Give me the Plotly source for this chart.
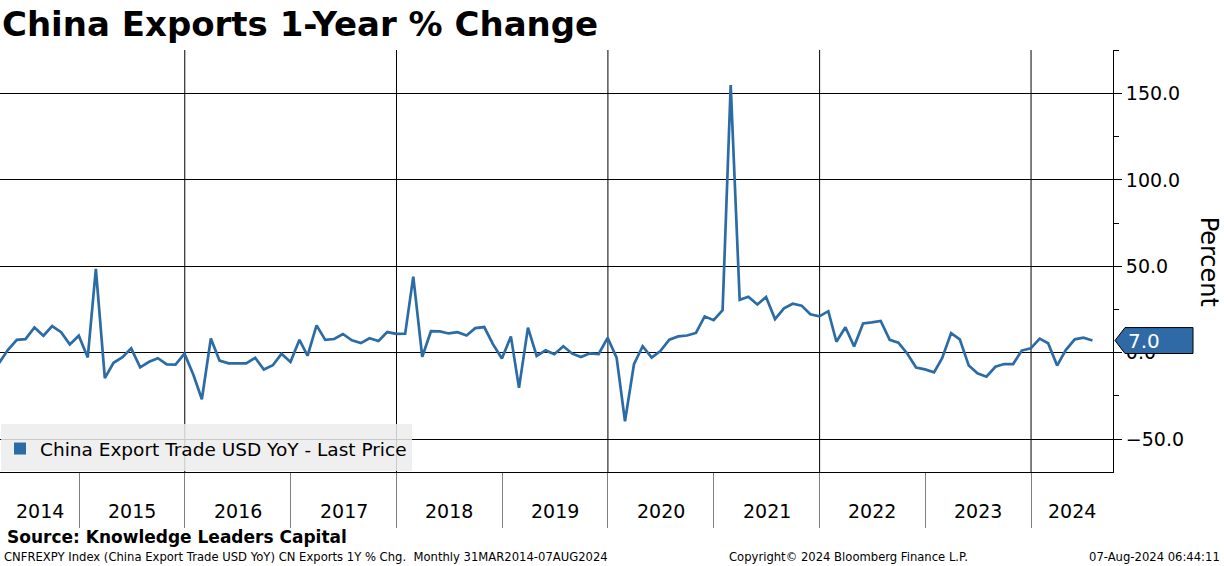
import pandas as pd
import plotly.graph_objects as go

# ---------------- data ----------------
title_text = "China Exports 1-Year % Change"
series_name = "China Export Trade USD YoY - Last Price"
first_month_end = "2014-03-31"

values_2014 = [-6.0, 1.5, 7.4, 7.8, 14.6, 9.8, 15.4, 11.8, 4.8, 9.8]           # Mar-Dec
values_2015 = [-2.8, 48.5, -14.8, -5.9, -2.6, 2.5, -8.5, -5.3, -3.2, -6.8, -6.9, -0.6]
values_2016 = [-13.0, -27.0, 8.2, -4.6, -6.2, -6.2, -6.2, -3.0, -9.8, -7.3, -0.7, -5.4]
values_2017 = [7.4, -1.8, 15.8, 7.4, 7.9, 10.8, 7.1, 5.5, 8.3, 6.7, 11.9, 10.9]
values_2018 = [11.0, 44.0, -2.4, 12.4, 12.3, 11.1, 11.8, 9.9, 14.2, 14.8, 4.9, -3.4]
values_2019 = [9.4, -20.4, 14.5, -1.9, 1.3, -0.9, 3.7, -0.6, -2.5, -0.4, -0.8, 8.6]
values_2020 = [-2.9, -39.7, -6.7, 3.7, -2.9, 0.9, 7.5, 9.4, 9.9, 11.4, 21.0, 18.8]
values_2021 = [24.6, 154.9, 30.6, 32.3, 27.9, 32.2, 19.4, 25.6, 28.3, 27.2, 22.2, 21.0]
values_2022 = [24.0, 6.3, 14.7, 3.6, 16.9, 17.5, 18.3, 7.4, 5.8, -0.6, -8.6, -9.7]
values_2023 = [-11.4, -3.2, 11.3, 7.7, -7.5, -12.0, -13.9, -8.2, -6.6, -6.6, 1.2, 2.5]
values_2024 = [8.1, 5.4, -7.5, 1.5, 7.7, 8.7, 7.0]                                # Jan-Jul

x_range = ["2014-04-03", "2024-10-10"]
year_labels = list(range(2014, 2025))
grid_years = [2016, 2018, 2020, 2022, 2024]
y_ticks = [-50, 0, 50, 100, 150]
y_minor_step = 25
y_range = [-69.1, 175.2]

source_text = "Source: Knowledge Leaders Capital"
footer_left = "CNFREXPY Index (China Export Trade USD YoY) CN Exports 1Y % Chg.  Monthly 31MAR2014-07AUG2024"
footer_mid = "Copyright© 2024 Bloomberg Finance L.P."
footer_right = "07-Aug-2024 06:44:11"
y_title = "Percent"

# ---------------- build ----------------
values = (values_2014 + values_2015 + values_2016 + values_2017 + values_2018 + values_2019
          + values_2020 + values_2021 + values_2022 + values_2023 + values_2024)
try:
    dates = pd.date_range(start=first_month_end, periods=len(values), freq="ME")
except Exception:
    dates = pd.date_range(start=first_month_end, periods=len(values), freq="M")

LINE = "#2b6ca6"
FONT = "DejaVu Sans"

fig = go.Figure()
fig.add_trace(go.Scatter(x=dates, y=values, mode="lines", line=dict(color=LINE, width=2.7),
                         name=series_name, showlegend=False))
fig.add_trace(go.Scatter(x=[None], y=[None], mode="markers",
                         marker=dict(symbol="square", size=12, color=LINE),
                         name=series_name, showlegend=True))

r0, r1 = pd.Timestamp(x_range[0]), pd.Timestamp(x_range[1])

# vertical grid lines every two years
for yr in grid_years:
    fig.add_shape(type="line", xref="x", yref="paper", x0=f"{yr}-01-01", x1=f"{yr}-01-01",
                  y0=0, y1=1, line=dict(color="black", width=1), layer="below")

# year labels centred in visible part of each year
for yr in year_labels:
    s = max(pd.Timestamp(f"{yr}-01-01"), r0)
    e = min(pd.Timestamp(f"{yr + 1}-01-01"), r1)
    mid = s + (e - s) / 2
    fig.add_annotation(x=mid, xref="x", y=-0.0924, yref="paper", text=str(yr), showarrow=False,
                       font=dict(size=19, color="black", family=FONT), xanchor="center", yanchor="middle")

# legend background box
fig.add_shape(type="rect", xref="paper", yref="paper", x0=0.001, x1=0.3702, y0=0.0024, y1=0.1137,
              fillcolor="rgba(236,236,236,0.85)", line=dict(width=0), layer="above")

# last value marker on right axis
last = values[-1]
half = 7.5
fig.add_shape(type="path", xref="paper", yref="y",
              path=(f"M 1.0018,{last} L 1.0108,{last + half} L 1.0719,{last + half} "
                    f"L 1.0719,{last - half} L 1.0108,{last - half} Z"),
              fillcolor="#2f6aa6", line=dict(color="black", width=1), layer="above")
fig.add_annotation(x=1.0118, xref="paper", y=last, yref="y", text=f"{last:.1f}", showarrow=False,
                   xanchor="left", yanchor="middle", font=dict(size=20, color="white", family=FONT))

# y axis title (rotated clockwise)
fig.add_annotation(x=1.0866, xref="paper", y=0.4976, yref="paper", text=y_title, showarrow=False,
                   textangle=90, font=dict(size=24, color="black", family=FONT),
                   xanchor="center", yanchor="middle")

# footer texts
fig.add_annotation(x=0.0045, xref="paper", y=-0.154, yref="paper", text=f"<b>{source_text}</b>",
                   showarrow=False, xanchor="left", yanchor="middle",
                   font=dict(size=17, color="black", family=FONT))
fig.add_annotation(x=0.0018, xref="paper", y=-0.2014, yref="paper", text=footer_left,
                   showarrow=False, xanchor="left", yanchor="middle",
                   font=dict(size=11.6, color="black", family=FONT))
fig.add_annotation(x=0.762, xref="paper", y=-0.2014, yref="paper", text=footer_mid,
                   showarrow=False, xanchor="center", yanchor="middle",
                   font=dict(size=11.6, color="black", family=FONT))
fig.add_annotation(x=1.098, xref="paper", y=-0.2014, yref="paper", text=footer_right,
                   showarrow=False, xanchor="right", yanchor="middle",
                   font=dict(size=11.6, color="black", family=FONT))

fig.update_layout(
    width=1224, height=566,
    margin=dict(l=0, r=111, t=50, b=94),
    paper_bgcolor="white", plot_bgcolor="white",
    title=dict(text=f"<b>{title_text}</b>", x=0.0016, xref="container", xanchor="left",
               y=0.9576, yref="container", yanchor="middle",
               font=dict(size=34, color="black", family=FONT)),
    font=dict(family=FONT, color="black"),
    legend=dict(x=0.0, y=0.0545, xanchor="left", yanchor="middle", bgcolor="rgba(0,0,0,0)",
                font=dict(size=18.5, color="black", family=FONT)),
    xaxis=dict(type="date", range=x_range, showgrid=False, zeroline=False,
               tickvals=[f"{yr}-01-01" for yr in year_labels[1:]], showticklabels=False,
               ticks="outside", ticklen=55, tickcolor="#808080", tickwidth=1,
               showline=True, linecolor="black", linewidth=1),
    yaxis=dict(side="right", range=y_range, tickvals=y_ticks, tickformat=".1f",
               showgrid=True, gridcolor="black", gridwidth=1, zeroline=False,
               ticks="outside", ticklen=8, tickcolor="black", tickwidth=1,
               minor=dict(dtick=y_minor_step, tick0=0, ticks="outside", ticklen=5, tickcolor="black",
                          showgrid=False),
               showline=True, linecolor="black", linewidth=1,
               tickfont=dict(size=19, color="black", family=FONT)),
)

fig.write_html("out.html", config={"displayModeBar": False},
               post_script="document.body.style.margin='0';document.body.style.overflow='hidden';")
